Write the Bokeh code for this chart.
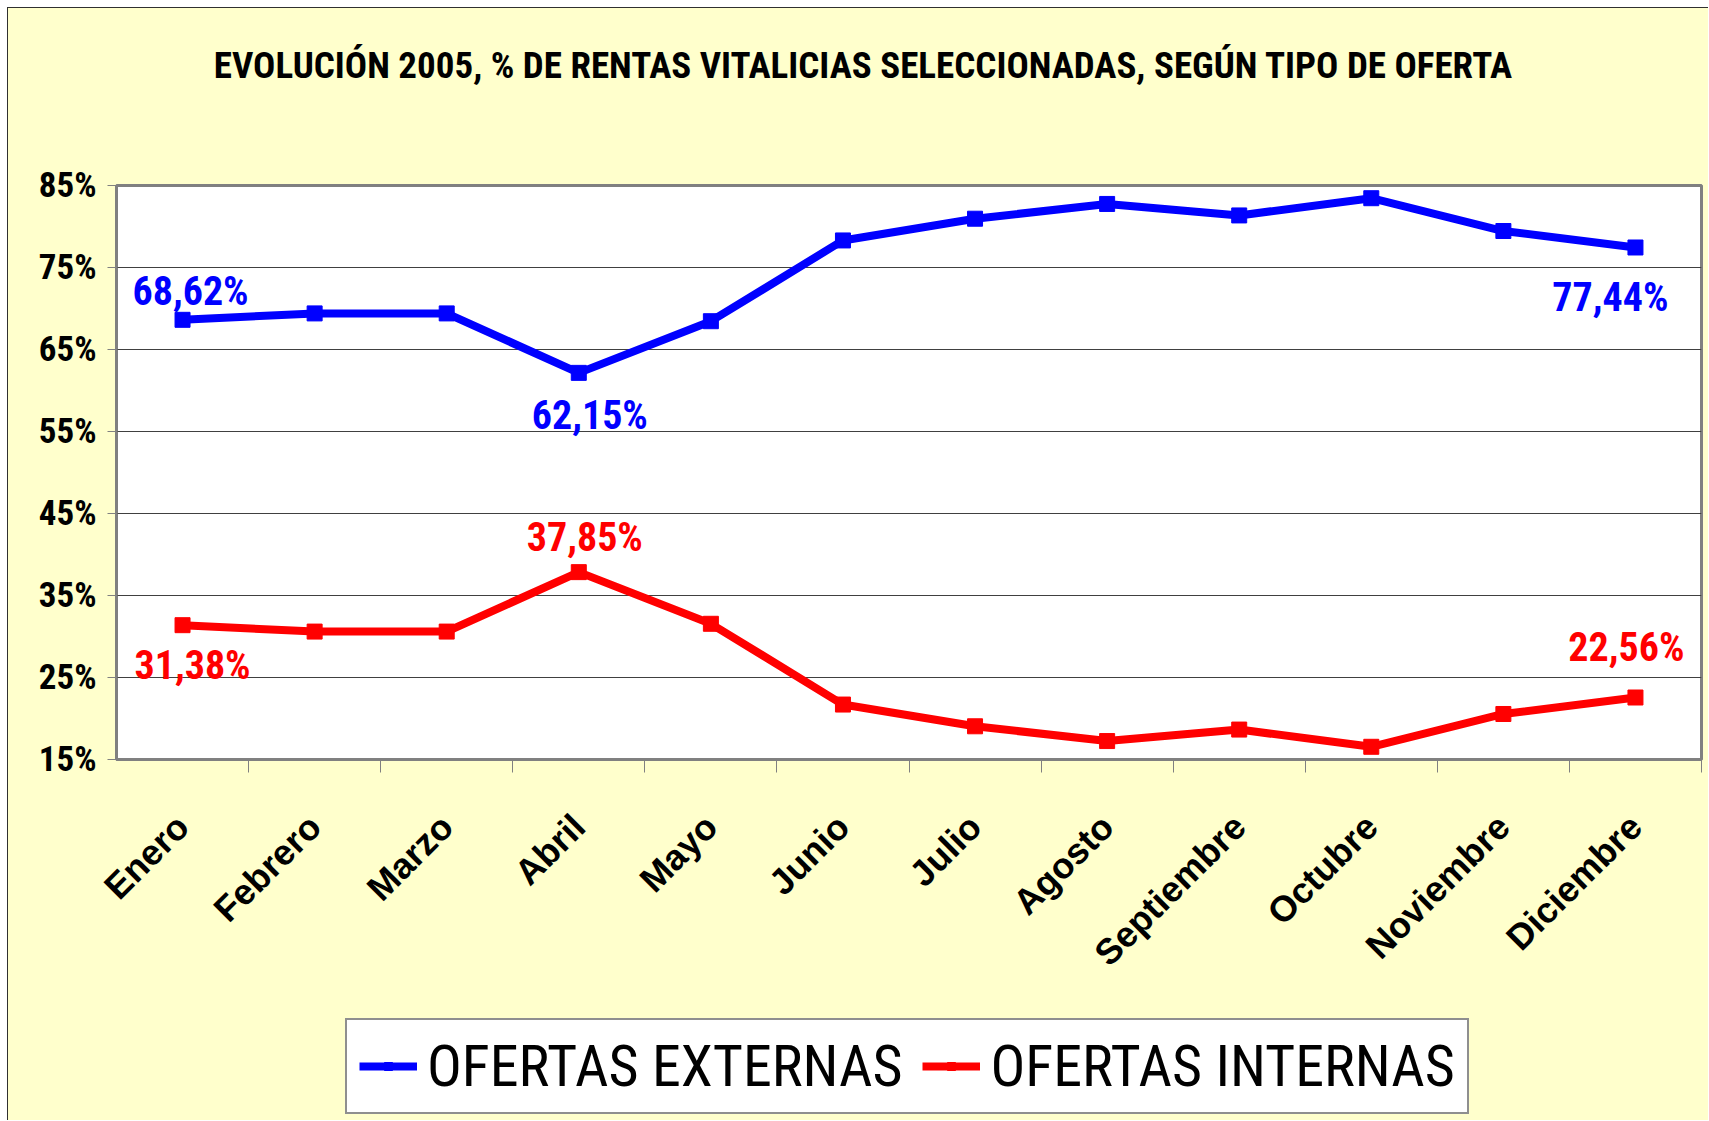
import math
from bokeh.plotting import figure
from bokeh.layouts import column
from bokeh.models import Range1d, FixedTicker, Legend, LegendItem, Label
from bokeh.embed import file_html
from bokeh.resources import INLINE
from bokeh.core.properties import value

# ---- data ----
months = ["Enero", "Febrero", "Marzo", "Abril", "Mayo", "Junio", "Julio",
          "Agosto", "Septiembre", "Octubre", "Noviembre", "Diciembre"]
externas = [68.62, 69.40, 69.40, 62.15, 68.45, 78.30, 80.95, 82.75, 81.35, 83.45, 79.45, 77.44]
internas = [31.38, 30.60, 30.60, 37.85, 31.55, 21.70, 19.05, 17.25, 18.65, 16.55, 20.55, 22.56]
y_ticks = [15, 25, 35, 45, 55, 65, 75, 85]
y_tick_labels = ["15%", "25%", "35%", "45%", "55%", "65%", "75%", "85%"]
series_names = ["OFERTAS EXTERNAS", "OFERTAS INTERNAS"]
title_text = "EVOLUCIÓN 2005, % DE RENTAS VITALICIAS SELECCIONADAS, SEGÚN TIPO DE OFERTA"
labelled = [0, 3, 11]

# ---- styling ----
BLUE = "#0000FF"
RED = "#FF0000"
GRAY = "#808080"
BG = "#FFFFCC"
NARROW = "Roboto Condensed"
W = 1700

x = [i + 0.5 for i in range(len(months))]

# ---- title strip ----
pt = figure(width=W, height=147, output_backend="svg", toolbar_location=None,
            x_axis_type=None, y_axis_type=None, min_border=0)
pt.background_fill_color = BG
pt.border_fill_color = BG
pt.outline_line_color = None
pt.add_layout(Label(x=747, y=90, x_units="screen", y_units="screen", text=title_text,
                    text_align="center", text_baseline="alphabetic",
                    text_font=NARROW, text_font_style="bold", text_font_size="37px",
                    text_color="black"))

# ---- main chart ----
p = figure(width=W, height=861, x_range=Range1d(0, len(months)), y_range=Range1d(15, 85),
           output_backend="svg", toolbar_location=None,
           min_border_left=108, min_border_top=30, min_border_right=7, min_border_bottom=257)
p.background_fill_color = "white"
p.border_fill_color = BG
p.outline_line_color = GRAY
p.outline_line_width = 3

# x axis
p.xaxis.ticker = FixedTicker(ticks=x, minor_ticks=list(range(1, len(months) + 1)))
p.xaxis.major_label_overrides = {xi: m for xi, m in zip(x, months)}
p.xaxis.major_label_orientation = math.pi / 4
p.xaxis.major_tick_out = 0
p.xaxis.major_tick_in = 0
p.xaxis.minor_tick_out = 13
p.xaxis.minor_tick_in = 0
p.xaxis.minor_tick_line_color = GRAY
p.xaxis.minor_tick_line_width = 1
p.xaxis.axis_line_color = GRAY
p.xaxis.axis_line_width = 3
p.xaxis.major_label_text_font = "Liberation Sans"
p.xaxis.major_label_text_font_style = "bold"
p.xaxis.major_label_text_font_size = "36px"
p.xaxis.major_label_text_color = "black"
p.xaxis.major_label_standoff = 48

# y axis
p.yaxis.ticker = FixedTicker(ticks=y_ticks)
p.yaxis.major_label_overrides = {t: l for t, l in zip(y_ticks, y_tick_labels)}
p.yaxis.major_tick_out = 9
p.yaxis.major_tick_in = 0
p.yaxis.minor_tick_out = 0
p.yaxis.minor_tick_in = 0
p.yaxis.major_tick_line_color = GRAY
p.yaxis.axis_line_color = GRAY
p.yaxis.axis_line_width = 2
p.yaxis.major_label_text_font = NARROW
p.yaxis.major_label_text_font_style = "bold"
p.yaxis.major_label_text_font_size = "35px"
p.yaxis.major_label_text_color = "black"
p.yaxis.major_label_standoff = 11

p.xgrid.visible = False
p.ygrid.grid_line_color = "#404040"
p.ygrid.grid_line_width = 1

# series
p.line(x, externas, line_color=BLUE, line_width=8)
p.scatter(x, externas, marker="square", size=15, color=BLUE)
p.line(x, internas, line_color=RED, line_width=8)
p.scatter(x, internas, marker="square", size=15, color=RED)

def fmt(v):
    return f"{v:.2f}".replace(".", ",") + "%"

p.text(x=[x[i] for i in labelled], y=[externas[i] for i in labelled],
       text=[fmt(externas[i]) for i in labelled],
       x_offset=[8, 11, -25], y_offset=[-28, 43, 50],
       text_align="center", text_baseline="alphabetic",
       text_font=value(NARROW), text_font_style="bold", text_font_size="40px",
       text_color=BLUE)
p.text(x=[x[i] for i in labelled], y=[internas[i] for i in labelled],
       text=[fmt(internas[i]) for i in labelled],
       x_offset=[10, 6, -9], y_offset=[40, -35, -50],
       text_align="center", text_baseline="alphabetic",
       text_font=value(NARROW), text_font_style="bold", text_font_size="40px",
       text_color=RED)

# ---- legend strip (series drawn off-range so only the legend shows) ----
pl = figure(width=W, height=104, output_backend="svg", toolbar_location=None,
            x_axis_type=None, y_axis_type=None, min_border=0,
            x_range=Range1d(0, 1), y_range=Range1d(0, 1))
pl.background_fill_color = BG
pl.border_fill_color = BG
pl.outline_line_color = None
le = pl.line(x, externas, line_color=BLUE, line_width=8)
lem = pl.scatter(x, externas, marker="square", size=15, color=BLUE)
li = pl.line(x, internas, line_color=RED, line_width=8)
lim = pl.scatter(x, internas, marker="square", size=15, color=RED)
legend = Legend(items=[LegendItem(label=series_names[0], renderers=[le, lem]),
                       LegendItem(label=series_names[1], renderers=[li, lim])],
                orientation="horizontal", location=(229, 6),
                label_text_font=NARROW, label_text_font_size="58px",
                label_text_color="black",
                glyph_width=58, glyph_height=20, label_standoff=10, spacing=20,
                padding=12, margin=0,
                border_line_color="#202020", border_line_width=2,
                background_fill_color="white", background_fill_alpha=1)
pl.add_layout(legend)

layout = column(pt, p, pl, spacing=0)
layout.styles = {"margin-left": "7px", "margin-top": "7px", "background-color": BG,
                 "border-left": "1px solid #303030", "border-top": "1px solid #303030"}

open("out.html", "w").write(file_html(layout, INLINE))
